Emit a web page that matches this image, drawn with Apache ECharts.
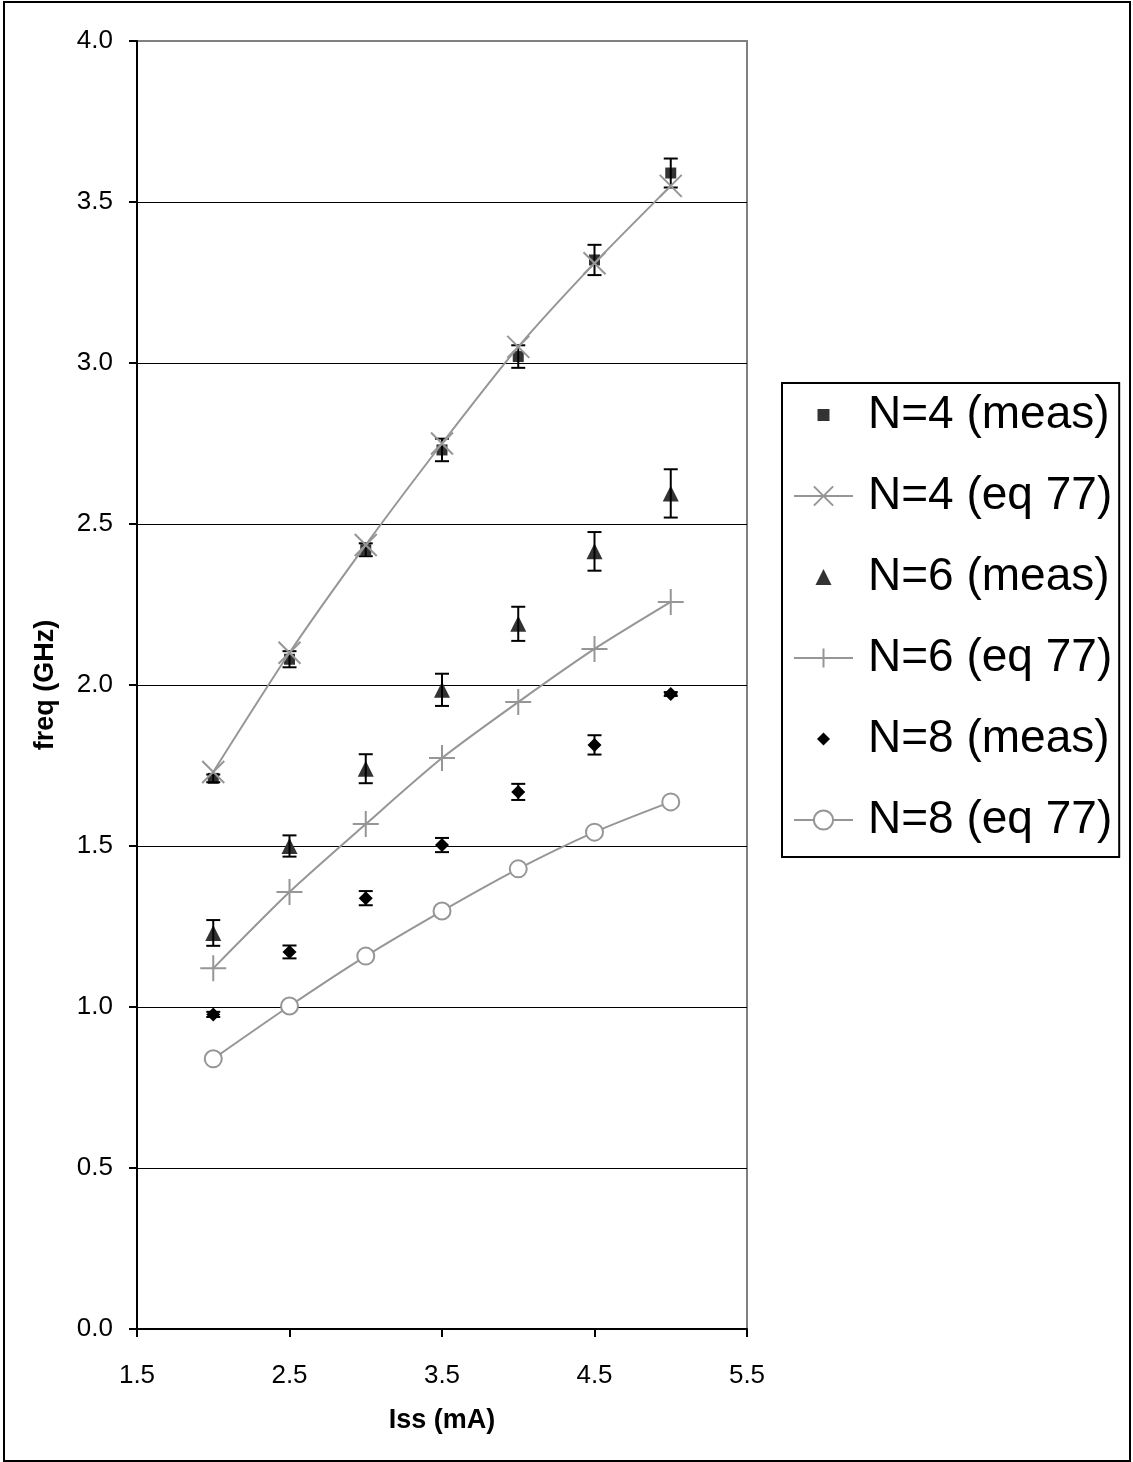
<!DOCTYPE html>
<html>
<head>
<meta charset="utf-8">
<script src="https://cdn.jsdelivr.net/npm/echarts@6/dist/echarts.min.js"></script>
<style>
  html, body { margin: 0; padding: 0; background: #fff; }
  #chart { width: 1133px; height: 1462px; }
</style>
</head>
<body>
<div id="chart"></div>
<script>
// Bias current Iss (mA)
const iss = [2, 2.5, 3, 3.5, 4, 4.5, 5];

// Measured oscillation frequency (GHz) and error half-widths
const n4Meas = [1.71, 2.08, 2.42, 2.73, 3.02, 3.32, 3.59];
const n4Err  = [0.012, 0.025, 0.02, 0.035, 0.035, 0.047, 0.045];
const n6Meas = [1.23, 1.50, 1.74, 1.985, 2.19, 2.415, 2.595];
const n6Err  = [0.04, 0.033, 0.045, 0.05, 0.053, 0.06, 0.075];
const n8Meas = [0.977, 1.171, 1.338, 1.503, 1.668, 1.814, 1.972];
const n8Err  = [0.008, 0.02, 0.022, 0.022, 0.025, 0.03, 0.006];

// Predicted frequency from eq 77 (GHz)
const n4Eq = [1.73, 2.10, 2.435, 2.75, 3.05, 3.31, 3.55];
const n6Eq = [1.12, 1.357, 1.568, 1.773, 1.947, 2.112, 2.258];
const n8Eq = [0.839, 1.003, 1.158, 1.298, 1.429, 1.543, 1.637];

const seriesNames = ['N=4 (meas)', 'N=4 (eq 77)', 'N=6 (meas)', 'N=6 (eq 77)', 'N=8 (meas)', 'N=8 (eq 77)'];

const FONT = "'Liberation Sans', Arial, sans-serif";
const GRAY = '#969696';
const DARK = '#333333';

const pts = ys => iss.map((x, i) => [x, ys[i]]);
const ranges = (ys, es) => iss.map((x, i) => [x, ys[i] - es[i], ys[i] + es[i]]);

const CROSS_X = 'path://M0,0L20,20M20,0L0,20';
const PLUS = 'path://M10,0L10,20M0,10L20,10';

// Legend icons for marker-only series (padded so the glyph stays small)
const ICON_SQUARE = 'path://M0,0M6,6L18,6L18,18L6,18ZM24,24';
const ICON_TRIANGLE = 'path://M0,0M4,20L12,4L20,20ZM24,24';
const ICON_DIAMOND = 'path://M0,0M12,5.5L18.5,12L12,18.5L5.5,12ZM24,24';

function errorBars(ys, es) {
  return {
    type: 'custom',
    silent: true,
    z: 3,
    encode: { x: 0, y: [1, 2] },
    data: ranges(ys, es),
    renderItem: (params, api) => {
      const x = api.value(0);
      const lo = api.coord([x, api.value(1)]);
      const hi = api.coord([x, api.value(2)]);
      const hw = 7;
      const st = { stroke: '#000', lineWidth: 2 };
      return {
        type: 'group',
        children: [
          { type: 'line', shape: { x1: lo[0], y1: lo[1], x2: hi[0], y2: hi[1] }, style: st },
          { type: 'line', shape: { x1: lo[0] - hw, y1: lo[1], x2: lo[0] + hw, y2: lo[1] }, style: st },
          { type: 'line', shape: { x1: hi[0] - hw, y1: hi[1], x2: hi[0] + hw, y2: hi[1] }, style: st }
        ]
      };
    }
  };
}

function measured(name, ys, symbol, size, color) {
  return {
    name, type: 'scatter', data: pts(ys), symbol, symbolSize: size, z: 2,
    itemStyle: { color, opacity: 1 }
  };
}

function predicted(name, ys, symbol, size) {
  return {
    name, type: 'line', data: pts(ys), symbol, symbolSize: size, smooth: 0.25, z: 4,
    lineStyle: { color: GRAY, width: 2 },
    itemStyle: { color: '#fff', borderColor: GRAY, borderWidth: 2 }
  };
}

const chart = echarts.init(document.getElementById('chart'), null, { renderer: 'canvas' });
chart.setOption({
  animation: false,
  backgroundColor: '#fff',
  textStyle: { fontFamily: FONT },
  grid: {
    left: 137, top: 41, width: 610, height: 1288,
    show: true, borderColor: '#808080', borderWidth: 2, backgroundColor: 'transparent'
  },
  xAxis: {
    type: 'value', min: 1.5, max: 5.5, interval: 1,
    name: 'Iss (mA)', nameLocation: 'middle', nameGap: 78,
    nameTextStyle: { fontFamily: FONT, fontSize: 27, fontWeight: 'bold', color: '#000' },
    axisLine: { show: true, onZero: false, lineStyle: { color: '#000', width: 2 } },
    axisTick: { show: true, length: 8, lineStyle: { color: '#000', width: 2 } },
    axisLabel: { fontFamily: FONT, fontSize: 26, color: '#000', margin: 34, formatter: v => v.toFixed(1) },
    splitLine: { show: false }
  },
  yAxis: {
    type: 'value', min: 0, max: 4, interval: 0.5,
    name: 'freq (GHz)', nameLocation: 'middle', nameGap: 78,
    nameTextStyle: { fontFamily: FONT, fontSize: 27, fontWeight: 'bold', color: '#000' },
    axisLine: { show: true, onZero: false, lineStyle: { color: '#000', width: 2 } },
    axisTick: { show: true, length: 8, lineStyle: { color: '#000', width: 2 } },
    axisLabel: { fontFamily: FONT, fontSize: 26, color: '#000', margin: 24, formatter: v => v.toFixed(1) },
    splitLine: { show: true, showMinLine: false, showMaxLine: false, lineStyle: { color: '#000', width: 1 } }
  },
  legend: {
    orient: 'vertical', left: 782, top: 383,
    padding: [8, 7, 13, 11],
    itemWidth: 59, itemHeight: 24, itemGap: 33,
    borderColor: '#000', borderWidth: 2, borderRadius: 0, backgroundColor: '#fff',
    selectedMode: false,
    textStyle: { fontFamily: FONT, fontSize: 46, color: '#000', lineHeight: 48, padding: [0, 0, 0, 10] },
    data: [
      { name: seriesNames[0], icon: ICON_SQUARE },
      { name: seriesNames[1] },
      { name: seriesNames[2], icon: ICON_TRIANGLE },
      { name: seriesNames[3] },
      { name: seriesNames[4], icon: ICON_DIAMOND },
      { name: seriesNames[5] }
    ]
  },
  graphic: [{
    type: 'rect', silent: true, z: -10,
    shape: { x: 4, y: 2, width: 1126, height: 1459 },
    style: { fill: 'none', stroke: '#000', lineWidth: 2 }
  }],
  series: [
    measured(seriesNames[0], n4Meas, 'rect', 11, DARK),
    errorBars(n4Meas, n4Err),
    predicted(seriesNames[1], n4Eq, CROSS_X, 22),
    measured(seriesNames[2], n6Meas, 'triangle', 16, DARK),
    errorBars(n6Meas, n6Err),
    predicted(seriesNames[3], n6Eq, PLUS, 26),
    measured(seriesNames[4], n8Meas, 'diamond', 14, '#000'),
    errorBars(n8Meas, n8Err),
    predicted(seriesNames[5], n8Eq, 'circle', 17)
  ]
});
</script>
</body>
</html>
